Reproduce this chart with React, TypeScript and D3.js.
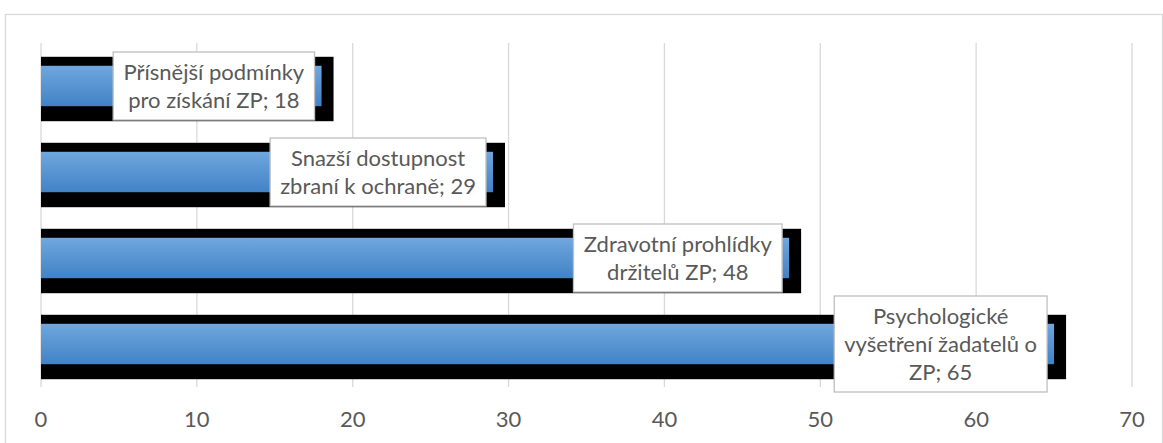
import React, { useEffect, useRef } from 'react';
import * as d3 from 'd3';

const WIDTH = 1163;
const HEIGHT = 443;
const MARGIN = { top: 43, right: 31, bottom: 56, left: 41 };

const CATEGORIES = [
  'Přísnější podmínky pro získání ZP',
  'Snazší dostupnost zbraní k ochraně',
  'Zdravotní prohlídky držitelů ZP',
  'Psychologické vyšetření žadatelů o ZP',
];
const VALUES = [18, 29, 48, 65];
const LABEL_LINES = [
  ['Přísnější podmínky', 'pro získání ZP; 18'],
  ['Snazší dostupnost', 'zbraní k ochraně; 29'],
  ['Zdravotní prohlídky', 'držitelů ZP; 48'],
  ['Psychologické', 'vyšetření žadatelů o', 'ZP; 65'],
];
const X_TICKS = [0, 10, 20, 30, 40, 50, 60, 70];

const FONT = 'Lato, "Open Sans", sans-serif';
const FONT_SIZE = 22;
const TEXT_COLOR = '#595959';
const GRID_COLOR = '#d9d9d9';

export default function App() {
  const ref = useRef<SVGSVGElement>(null);

  useEffect(() => {
    const svg = d3.select(ref.current);
    svg.selectAll('*').remove();

    const x = d3
      .scaleLinear()
      .domain([0, 70])
      .range([MARGIN.left, WIDTH - MARGIN.right]);
    const y = d3
      .scaleBand<string>()
      .domain(CATEGORIES)
      .range([MARGIN.top, HEIGHT - MARGIN.bottom])
      .paddingInner(0.53)
      .paddingOuter(0.265);

    const defs = svg.append('defs');
    const grad = defs
      .append('linearGradient')
      .attr('id', 'barGrad')
      .attr('x1', 0)
      .attr('y1', 0)
      .attr('x2', 0)
      .attr('y2', 1);
    grad.append('stop').attr('offset', '0%').attr('stop-color', '#70a7de');
    grad.append('stop').attr('offset', '100%').attr('stop-color', '#4182c6');

    // chart frame
    svg
      .append('rect')
      .attr('x', 5.5)
      .attr('y', 14.5)
      .attr('width', WIDTH - 6)
      .attr('height', HEIGHT)
      .attr('fill', 'none')
      .attr('stroke', GRID_COLOR)
      .attr('stroke-width', 1.3);

    // gridlines
    svg
      .append('g')
      .selectAll('line')
      .data(X_TICKS)
      .join('line')
      .attr('x1', (d) => x(d))
      .attr('x2', (d) => x(d))
      .attr('y1', MARGIN.top)
      .attr('y2', HEIGHT - MARGIN.bottom)
      .attr('stroke', GRID_COLOR)
      .attr('stroke-width', 1.3);

    // tick labels
    svg
      .append('g')
      .selectAll('text')
      .data(X_TICKS)
      .join('text')
      .attr('x', (d) => x(d))
      .attr('y', 427)
      .attr('text-anchor', 'middle')
      .attr('font-family', FONT)
      .attr('font-size', FONT_SIZE)
      .attr('fill', TEXT_COLOR)
      .text((d) => d);

    const bw = y.bandwidth();
    const bars = svg
      .append('g')
      .selectAll('g')
      .data(CATEGORIES)
      .join('g');

    // black shadow behind each bar
    bars
      .append('rect')
      .attr('x', x(0))
      .attr('y', (d) => (y(d) ?? 0) - 9)
      .attr('width', (_, i) => x(VALUES[i]) - x(0) + 12)
      .attr('height', bw + 24)
      .attr('fill', '#000');

    bars
      .append('rect')
      .attr('x', x(0))
      .attr('y', (d) => y(d) ?? 0)
      .attr('width', (_, i) => x(VALUES[i]) - x(0))
      .attr('height', bw)
      .attr('fill', 'url(#barGrad)');

    // data labels
    const lineH = 28;
    CATEGORIES.forEach((cat, i) => {
      const lines = LABEL_LINES[i];
      const cy = (y(cat) ?? 0) + bw / 2;
      const g = svg.append('g');
      const rect = g.append('rect');
      const text = g
        .append('text')
        .attr('font-family', FONT)
        .attr('font-size', FONT_SIZE)
        .attr('fill', TEXT_COLOR)
        .attr('text-anchor', 'middle');
      lines.forEach((ln, j) => {
        text
          .append('tspan')
          .attr('x', 0)
          .attr('y', (j - (lines.length - 1) / 2) * lineH + 8)
          .text(ln);
      });
      const bb = (text.node() as SVGTextElement).getBBox();
      const w = bb.width + 20;
      const h = lines.length * lineH + 12;
      const right = x(VALUES[i]) - 7;
      const cx = right - w / 2;
      g.attr('transform', `translate(${cx},${cy})`);
      rect
        .attr('x', -w / 2)
        .attr('y', -h / 2)
        .attr('width', w)
        .attr('height', h)
        .attr('fill', '#fff')
        .attr('stroke', '#bfbfbf')
        .attr('stroke-width', 1.3);
    });
  }, []);

  return (
    <>
      <style>{`body{margin:0}`}</style>
      <svg ref={ref} width={WIDTH} height={HEIGHT} style={{ display: 'block' }} />
    </>
  );
}
